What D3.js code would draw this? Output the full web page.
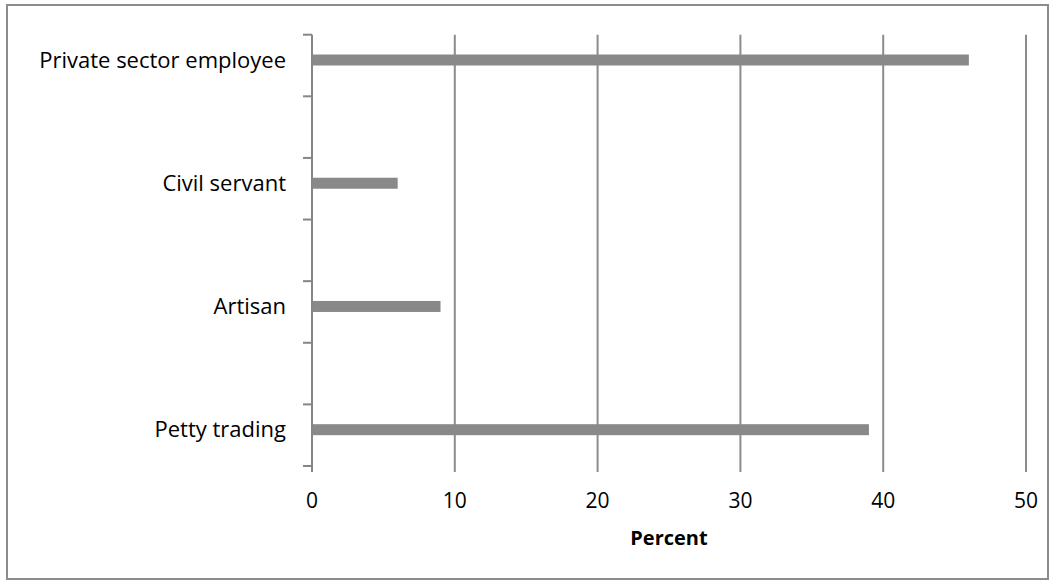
<!DOCTYPE html>
<html>
<head>
<meta charset="utf-8">
<script src="https://cdn.jsdelivr.net/npm/d3@7"></script>
<style>
  html, body { margin: 0; padding: 0; background: #fff; }
  svg { display: block; }
  text { font-family: "Open Sans", Lato, sans-serif; fill: #000; }
</style>
</head>
<body>
<svg id="chart" width="1057" height="585"></svg>
<script>
// Occupation shares (percent of respondents)
const categories = ["Private sector employee", "Civil servant", "Artisan", "Petty trading"];
const percent = [46, 6, 9, 39];
const xTicks = [0, 10, 20, 30, 40, 50];
const xTitle = "Percent";

const svg = d3.select("#chart");

// outer frame
svg.append("rect")
  .attr("x", 7).attr("y", 5)
  .attr("width", 1041).attr("height", 574)
  .attr("fill", "#fff").attr("stroke", "#8c8c8c").attr("stroke-width", 2);

const plotTop = 34.7, plotBottom = 466;
const x = d3.scaleLinear().domain([0, 50]).range([312, 1026]);

// each category is followed by an empty spacer slot (except the last)
const slots = categories.flatMap((c, i) => i < categories.length - 1 ? [c, "__gap" + i] : [c]);
const y = d3.scaleBand().domain(slots).range([plotTop, plotBottom]).padding(0);
const bw = y.bandwidth();
const barH = 11;

// vertical gridlines
svg.append("g").selectAll("line")
  .data(xTicks.slice(1))
  .join("line")
  .attr("x1", d => x(d)).attr("x2", d => x(d))
  .attr("y1", plotTop).attr("y2", plotBottom + 6)
  .attr("stroke", "#8c8c8c").attr("stroke-width", 2);

// bars
svg.append("g").selectAll("rect")
  .data(categories.map((c, i) => ({ c, v: percent[i] })))
  .join("rect")
  .attr("x", x(0))
  .attr("y", d => y(d.c) + bw / 2 - barH)
  .attr("width", d => x(d.v) - x(0))
  .attr("height", barH)
  .attr("fill", "#898989");

// category axis line and ticks
const boundaries = d3.range(slots.length + 1).map(i => plotTop + i * bw);
svg.append("line")
  .attr("x1", x(0)).attr("x2", x(0))
  .attr("y1", plotTop).attr("y2", plotBottom + 6)
  .attr("stroke", "#868686").attr("stroke-width", 2);
svg.append("g").selectAll("line")
  .data(boundaries)
  .join("line")
  .attr("x1", x(0) - 9).attr("x2", x(0))
  .attr("y1", d => d).attr("y2", d => d)
  .attr("stroke", "#868686").attr("stroke-width", 2);

// category labels
svg.append("g").selectAll("text")
  .data(categories)
  .join("text")
  .attr("x", 286)
  .attr("y", d => y(d) + bw / 2 - barH / 2)
  .attr("dy", "0.35em")
  .attr("text-anchor", "end")
  .attr("font-size", 22)
  .text(d => d);

// value axis labels
svg.append("g").selectAll("text")
  .data(xTicks)
  .join("text")
  .attr("x", d => x(d))
  .attr("y", 508)
  .attr("text-anchor", "middle")
  .attr("font-size", 21)
  .text(d => d);

svg.append("text")
  .attr("x", (x(0) + x(50)) / 2)
  .attr("y", 545)
  .attr("text-anchor", "middle")
  .attr("font-size", 20)
  .attr("font-weight", "bold")
  .text(xTitle);
</script>
</body>
</html>
